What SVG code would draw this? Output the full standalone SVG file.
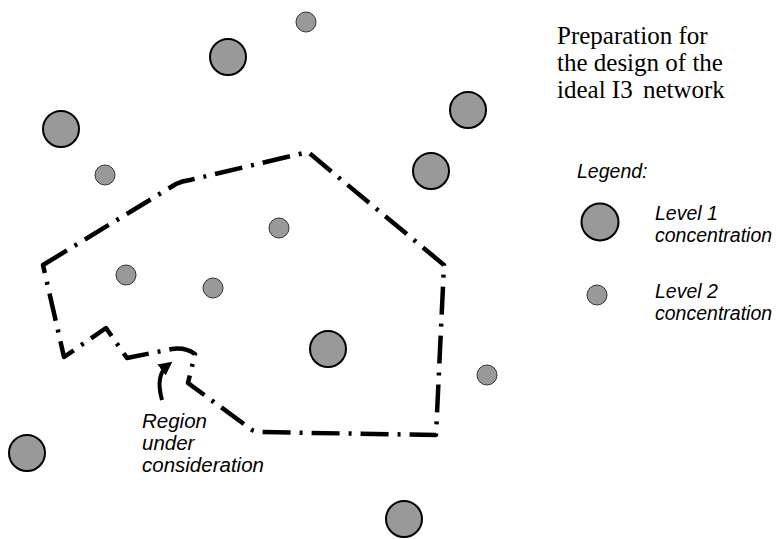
<svg xmlns="http://www.w3.org/2000/svg" width="781" height="539" viewBox="0 0 781 539">
  <style>
    .l1 { fill: #999999; stroke: #000000; stroke-width: 2; }
    .l2 { fill: #999999; stroke: #333333; stroke-width: 1; }
    .title { font-family: "Liberation Serif", "Times New Roman", serif; font-size: 25px; fill: #000000; }
    .note { font-family: "Liberation Sans", Arial, sans-serif; font-style: italic; font-size: 19.5px; fill: #000000; }
    .big { font-size: 20.5px; }
    .region { fill: none; stroke: #000000; stroke-width: 4.5; stroke-dasharray: 28 9 3 9; stroke-linejoin: round; }
  </style>
  <defs>
    <marker id="head" viewBox="0 0 10 10" refX="6" refY="5" markerWidth="3.4" markerHeight="3.4" orient="auto">
      <path d="M0,0 L10,5 L0,10 Z" fill="#000000"/>
    </marker>
  </defs>

  <!-- title -->
  <g id="title">
    <text class="title" x="557" y="44">Preparation for</text>
    <text class="title" x="557" y="71">the design of the</text>
    <text class="title" x="557" y="98">ideal I3 <tspan dx="4">network</tspan></text>
  </g>

  <!-- boundary of the region and its pointer -->
  <g id="connectors">
    <path class="region" d="M43,265 L176,184 Q182,181 190,180 L308,152 L444,265 L436,435 L258,432 Q252,431 248,427 L188,383 L195,354 Q185,347 172,349 L127,358 L106,328 L64,357 Z"/>
    <path d="M162,400 Q155,375 168,365" fill="none" stroke="#000000" stroke-width="4" marker-end="url(#head)"/>
  </g>

  <g id="region-label">
    <text class="note big" x="142" y="428">Region</text>
    <text class="note big" x="142" y="450">under</text>
    <text class="note big" x="142" y="472">consideration</text>
  </g>

  <!-- level 1 concentrations -->
  <g id="c1-a"><circle class="l1" cx="228" cy="57" r="18"/></g>
  <g id="c1-b"><circle class="l1" cx="468" cy="110" r="18"/></g>
  <g id="c1-c"><circle class="l1" cx="61" cy="129" r="18"/></g>
  <g id="c1-d"><circle class="l1" cx="431" cy="171" r="18"/></g>
  <g id="c1-e"><circle class="l1" cx="328" cy="349" r="18"/></g>
  <g id="c1-f"><circle class="l1" cx="27" cy="453" r="18" stroke-width="1.2"/></g>
  <g id="c1-g"><circle class="l1" cx="404" cy="519" r="18"/></g>

  <!-- level 2 concentrations -->
  <g id="c2-a"><circle class="l2" cx="306" cy="22" r="10"/></g>
  <g id="c2-b"><circle class="l2" cx="105" cy="175" r="10"/></g>
  <g id="c2-c"><circle class="l2" cx="279" cy="228" r="10"/></g>
  <g id="c2-d"><circle class="l2" cx="126" cy="275" r="10"/></g>
  <g id="c2-e"><circle class="l2" cx="213" cy="288" r="10"/></g>
  <g id="c2-f"><circle class="l2" cx="487" cy="375" r="10"/></g>

  <!-- legend -->
  <g id="legend">
    <text class="note" x="577" y="178">Legend:</text>
    <circle class="l1" cx="600" cy="222" r="18.5"/>
    <text class="note" x="655" y="220">Level 1</text>
    <text class="note" x="655" y="242">concentration</text>
    <circle class="l2" cx="597" cy="295" r="10"/>
    <text class="note" x="655" y="298">Level 2</text>
    <text class="note" x="655" y="320">concentration</text>
  </g>
</svg>
